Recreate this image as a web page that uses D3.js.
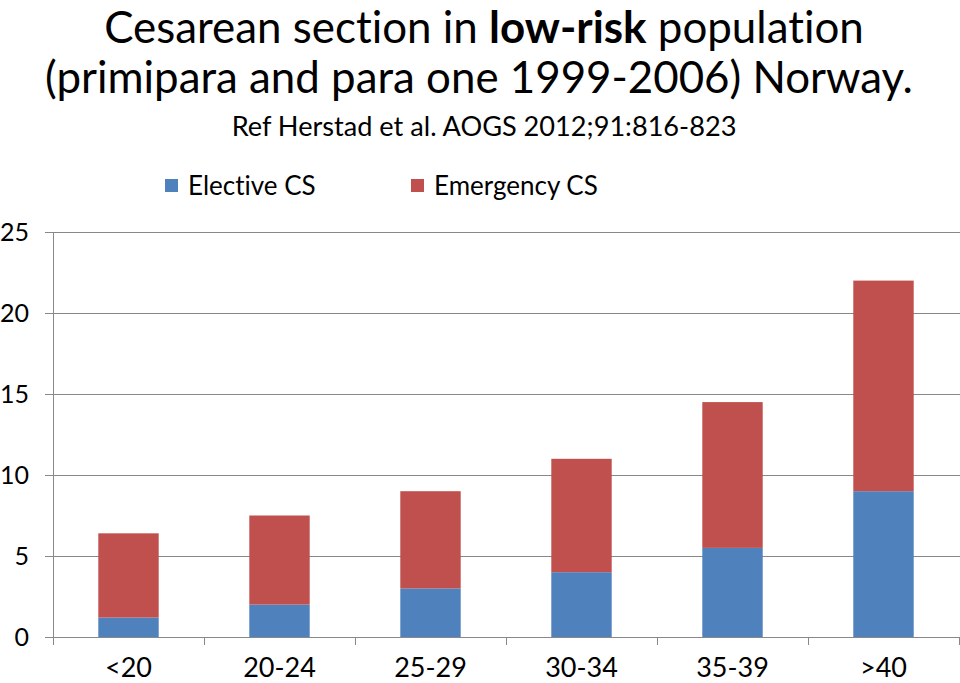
<!DOCTYPE html>
<html><head><meta charset="utf-8">
<script src="https://cdn.jsdelivr.net/npm/d3@7"></script>
<style>body{margin:0;background:#fff}svg{display:block}text{font-variant-ligatures:none;font-feature-settings:"liga" 0}</style>
</head><body>
<svg id="c" width="960" height="683"></svg>
<script>
const categories = ["<20","20-24","25-29","30-34","35-39",">40"];
const elective = [1.2, 2.0, 3.0, 4.0, 5.5, 9.0];
const emergency = [5.2, 5.5, 6.0, 7.0, 9.0, 13.0];
const seriesNames = ["Elective CS","Emergency CS"];
const yTicks = [0,5,10,15,20,25];

(function(){
const colors = ["#4f81bd","#c0504d"];
const font = "Lato, 'Open Sans', sans-serif";
const svg = d3.select("#c");
const pL = 53, pR = 959, pT = 232, pB = 637;

const x = d3.scaleBand().domain(categories).range([pL, pR]).paddingInner(0.6).paddingOuter(0.3);
const y = d3.scaleLinear().domain([0,25]).range([pB, pT]);

// gridlines
svg.append("g").selectAll("line").data(yTicks).join("line")
  .attr("x1", 45).attr("x2", pR+1)
  .attr("y1", d=>Math.round(y(d))+0.5).attr("y2", d=>Math.round(y(d))+0.5)
  .attr("stroke", "#888").attr("stroke-width", 1);

// y labels
svg.append("g").selectAll("text").data(yTicks).join("text")
  .attr("x", 29).attr("y", d=>y(d)).attr("dy", "0.36em")
  .attr("text-anchor","end").attr("font-family", font).attr("font-size", 25)
  .attr("fill","#000").text(d=>d);

// stacked bars
const data = categories.map((c,i)=>({cat:c, "Elective CS":elective[i], "Emergency CS":emergency[i]}));
const stack = d3.stack().keys(seriesNames)(data);
svg.append("g").selectAll("g").data(stack).join("g")
  .attr("fill",(d,i)=>colors[i])
  .selectAll("rect").data(d=>d).join("rect")
  .attr("x", d=>x(d.data.cat)).attr("width", x.bandwidth())
  .attr("y", d=>y(d[1])).attr("height", d=>y(d[0])-y(d[1]));

// axes lines
svg.append("line").attr("x1", pL+0.5).attr("x2", pL+0.5).attr("y1", pT).attr("y2", pB+8)
  .attr("stroke","#888");
svg.append("line").attr("x1", 45).attr("x2", pR+1).attr("y1", Math.round(pB)+0.5).attr("y2", Math.round(pB)+0.5)
  .attr("stroke","#888");
const step = x.step();
svg.append("g").selectAll("line").data(d3.range(1, categories.length+1)).join("line")
  .attr("x1", d=>Math.round(pL + d*step)+0.5).attr("x2", d=>Math.round(pL + d*step)+0.5)
  .attr("y1", pB).attr("y2", pB+8).attr("stroke","#888");

// x labels
svg.append("g").selectAll("text").data(categories).join("text")
  .attr("x", d=>x(d)+x.bandwidth()/2).attr("y", 677)
  .attr("text-anchor","middle").attr("font-family", font).attr("font-size", 27)
  .text(d=>d);

// legend
const legX = [165, 411];
seriesNames.forEach((s,i)=>{
  svg.append("rect").attr("x", legX[i]).attr("y", 179).attr("width", 13).attr("height", 13).attr("fill", colors[i]);
  svg.append("text").attr("x", legX[i]+23).attr("y", 195).attr("font-family", font).attr("font-size", 26).text(s);
});

// title
function fitLine(sel, target){
  const w = sel.node().getComputedTextLength();
  const fs = parseFloat(sel.attr("font-size"));
  if (w > 0) sel.attr("font-size", fs*target/w);
}
const t1 = svg.append("text").attr("x", 484).attr("y", 43).attr("text-anchor","middle")
  .attr("font-family", font).attr("font-size", 38);
t1.append("tspan").text("Cesarean section in ");
t1.append("tspan").attr("font-weight","bold").text("low-risk");
t1.append("tspan").text(" population");
fitLine(t1, 760);
const t2 = svg.append("text").attr("x", 479).attr("y", 93).attr("text-anchor","middle")
  .attr("font-family", font).attr("font-size", 38).text("(primipara and para one 1999-2006) Norway.");
fitLine(t2, 868);
const t3 = svg.append("text").attr("x", 484).attr("y", 136).attr("text-anchor","middle")
  .attr("font-family", font).attr("font-size", 26).text("Ref Herstad et al. AOGS 2012;91:816-823");
fitLine(t3, 505);
})();
</script>
</body></html>
